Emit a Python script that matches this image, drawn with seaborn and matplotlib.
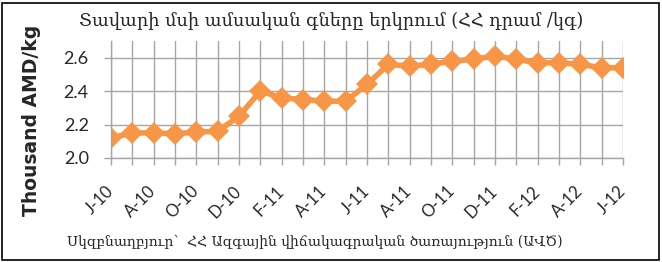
import matplotlib
matplotlib.use("Agg")
import matplotlib.pyplot as plt
import seaborn as sns
import pandas as pd
from matplotlib.patches import Rectangle

tick_labels = ["J-10", "A-10", "O-10", "D-10", "F-11", "A-11", "J-11",
               "A-11", "O-11", "D-11", "F-12", "A-12", "J-12"]
prices = [2.12, 2.15, 2.15, 2.145, 2.155, 2.16, 2.25, 2.40, 2.36, 2.35, 2.34, 2.34, 2.44,
          2.56, 2.55, 2.56, 2.58, 2.59, 2.61, 2.59, 2.57, 2.57, 2.56, 2.54, 2.54]
yticks = [2.0, 2.2, 2.4, 2.6]

title = "Տավարի մսի ամսական գները երկրում (ՀՀ դրամ /կգ)"
ylabel = "Thousand AMD/kg"
source = "Սկզբնաղբյուր՝  ՀՀ Ազգային վիճակագրական ծառայություն (ԱՎԾ)"

sns.set_theme(style="white")
plt.rcParams['font.family'] = ['DejaVu Sans']

df = pd.DataFrame({"idx": range(len(prices)), "price": prices})

fig = plt.figure(figsize=(6.62, 2.62), dpi=100)
ax = fig.add_axes([111/662, 1 - 158/262, (623-111)/662, (158-41)/262])

sns.lineplot(data=df, x="idx", y="price", ax=ax, color="#F79646", linewidth=4,
             marker="D", markersize=11, markeredgewidth=0, markerfacecolor="#F79646")

ax.set_xlim(0, len(prices) - 1)
ax.set_ylim(2.0, 2.7)
ax.set_yticks(yticks)
ax.set_yticklabels([f"{v:.1f}" for v in yticks], fontsize=13, family="Lato")
ax.set_xticks(range(len(prices)))
labels = []
j = 0
for i in range(len(prices)):
    if i % 2 == 0:
        labels.append(tick_labels[j]); j += 1
    else:
        labels.append("")
ax.set_xticklabels(labels, fontsize=12, family="Lato")
ax.grid(True, color="#A6A6A6", linewidth=1)
ax.set_axisbelow(True)
for s in ["top", "right"]:
    ax.spines[s].set_visible(False)
for s in ["left", "bottom"]:
    ax.spines[s].set_color("#A6A6A6")
    ax.spines[s].set_linewidth(1)
ax.tick_params(axis="both", which="major", length=5, color="#A6A6A6", width=1, bottom=True, left=True)
ax.tick_params(axis="x", pad=17, labelrotation=45)
ax.tick_params(axis="y", pad=11)
plt.setp(ax.get_xticklabels(), ha="right", va="center", rotation_mode="anchor", rotation=45)
ax.set_xlabel("")
ax.set_ylabel("")

fig.text(32/662, 1 - 120/262, ylabel, rotation=90, ha="center", va="center",
         fontsize=13.5, fontweight="bold", family="DejaVu Sans")
fig.text(331/662, 1 - 21/262, title, ha="center", va="center", fontsize=12.8,
         family="DejaVu Serif")
fig.text(315/662, 1 - 242/262, source, ha="center", va="center", fontsize=10,
         family="DejaVu Serif")

fig.patches.append(Rectangle((2/662, 2/262), 657/662, 257/262, transform=fig.transFigure,
                             fill=False, edgecolor="black", linewidth=1.2))

fig.savefig("out.png", dpi=100)
